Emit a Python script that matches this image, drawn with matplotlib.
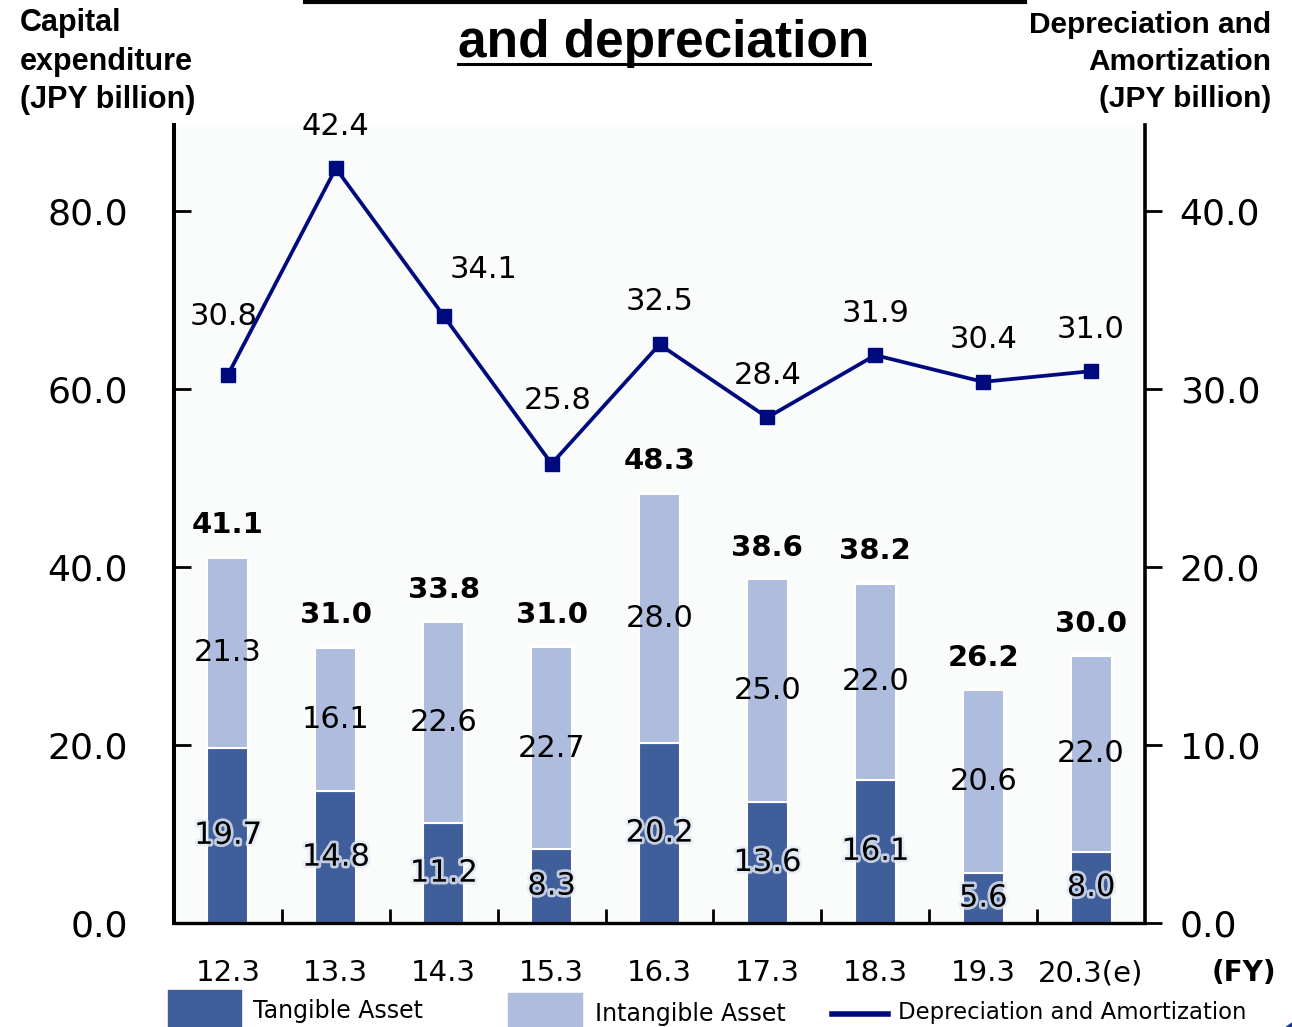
import numpy as np
import matplotlib
matplotlib.use('Agg')
import matplotlib.pyplot as plt
import matplotlib.patheffects as pe
from matplotlib.lines import Line2D
from matplotlib.patches import Rectangle, Circle

# data
years = ['12.3', '13.3', '14.3', '15.3', '16.3', '17.3', '18.3', '19.3', '20.3(e)']
tangible = [19.7, 14.8, 11.2, 8.3, 20.2, 13.6, 16.1, 5.6, 8.0]
intangible = [21.3, 16.1, 22.6, 22.7, 28.0, 25.0, 22.0, 20.6, 22.0]
totals = [41.1, 31.0, 33.8, 31.0, 48.3, 38.6, 38.2, 26.2, 30.0]
depreciation = [30.8, 42.4, 34.1, 25.8, 32.5, 28.4, 31.9, 30.4, 31.0]
left_ticks = [0.0, 20.0, 40.0, 60.0, 80.0]
right_ticks = [0.0, 10.0, 20.0, 30.0, 40.0]

# label offsets for the line (pixels), a few are nudged in the original
line_lbl_off = [(-4, 58), (0, 42), (40, 47), (6, 63), (0, 43), (0, 42), (0, 42), (0, 42), (0, 42)]

C_TAN = '#3f5e9a'
C_INT = '#aebcdd'
C_LINE = '#000a7f'

W, H = 1292, 1027
fig = plt.figure(figsize=(W / 100, H / 100), dpi=100)
fig.patch.set_facecolor('white')

def fx(px):
    return px / W

def fy(py):
    return 1 - py / H

ax = fig.add_axes([fx(174), fy(923), fx(1145) - fx(174), fy(125) - fy(923)])
ax.set_facecolor('#fafbfb')
x = np.arange(len(years))
bw = 0.38
ax.bar(x, tangible, bw, color=C_TAN, edgecolor='white', linewidth=1.5, zorder=2)
ax.bar(x, intangible, bw, bottom=tangible, color=C_INT, edgecolor='white', linewidth=1.5, zorder=2)

ax.set_xlim(-0.5, 8.5)
ax.set_ylim(0, 89.66)
ax.set_yticks(left_ticks)
ax.set_yticklabels(['%.1f' % v for v in left_ticks], fontsize=26, family='DejaVu Sans')
ax.tick_params(axis='y', direction='in', length=12, width=2, pad=33)
ax.set_xticks(x)
ax.set_xticklabels(years, fontsize=21, family='DejaVu Sans')
ax.set_xticks(x[:-1] + 0.5, minor=True)
ax.tick_params(axis='x', which='major', length=0, pad=26)
ax.tick_params(axis='x', which='minor', direction='in', length=10, width=2)
ax.spines['top'].set_visible(False)
ax.spines['right'].set_visible(False)
ax.spines['left'].set_linewidth(2.9)
ax.spines['bottom'].set_linewidth(2.4)

glow = [pe.withStroke(linewidth=4, foreground='#e4eaf5', alpha=0.8)]
for i in range(len(years)):
    ax.text(x[i], tangible[i] / 2, '%.1f' % tangible[i], ha='center', va='center',
            fontsize=22, family='DejaVu Sans', path_effects=glow, zorder=4)
    ax.text(x[i], tangible[i] + intangible[i] / 2, '%.1f' % intangible[i], ha='center',
            va='center', fontsize=22, family='DejaVu Sans', zorder=4)
    ax.annotate('%.1f' % totals[i], (x[i], totals[i]), xytext=(0, 23), textcoords='offset points',
                ha='center', va='center', fontsize=21, fontweight='bold', family='DejaVu Sans')

ax2 = ax.twinx()
ax2.plot(x, depreciation, color=C_LINE, linewidth=2.7, marker='s', markersize=10.5, zorder=5)
ax2.set_ylim(0, 44.83)
ax2.set_yticks(right_ticks)
ax2.set_yticklabels(['%.1f' % v for v in right_ticks], fontsize=26, family='DejaVu Sans')
ax2.tick_params(axis='y', direction='out', length=12, width=2, pad=13)
for s in ['top', 'left', 'bottom']:
    ax2.spines[s].set_visible(False)
ax2.spines['right'].set_linewidth(2.6)
for i in range(len(years)):
    dx, dy = line_lbl_off[i]
    ax2.annotate('%.1f' % depreciation[i], (x[i], depreciation[i]), xytext=(dx * 0.72, dy * 0.72),
                 textcoords='offset points', ha='center', va='center', fontsize=22, family='DejaVu Sans')

# axis titles
fig.text(fx(20), fy(8), 'Capital\nexpenditure\n(JPY billion)', ha='left', va='top',
         fontsize=22, fontweight='bold', family='Liberation Sans', linespacing=1.38)
fig.text(fx(1271), fy(11), 'Depreciation and\nAmortization\n(JPY billion)', ha='right', va='top',
         fontsize=21.5, fontweight='bold', family='Liberation Sans', linespacing=1.4)
fig.text(fx(1244), fy(973), '(FY)', ha='center', va='center', fontsize=20, fontweight='bold',
         family='DejaVu Sans')

# title (first line is cut off in the original, only its underline shows)
t = fig.text(fx(664), fy(43), 'and depreciation', ha='center', va='center', fontsize=37,
             fontweight='bold', family='Liberation Sans')
fig.canvas.draw()
bb = t.get_window_extent(fig.canvas.get_renderer())
fig.add_artist(Line2D([bb.x0 / W, bb.x1 / W], [fy(64), fy(64)], color='black', linewidth=2.2))
fig.add_artist(Line2D([fx(305), fx(1025)], [fy(1.5), fy(1.5)], color='black', linewidth=3))

# legend
fig.add_artist(Rectangle((fx(168), fy(1030)), fx(73), fy(990) - fy(1030), color=C_TAN, clip_on=False))
fig.text(fx(253), fy(1011), 'Tangible Asset', ha='left', va='center', fontsize=17, family='DejaVu Sans')
fig.add_artist(Rectangle((fx(508), fy(1030)), fx(74), fy(993) - fy(1030), color=C_INT, clip_on=False))
fig.text(fx(595), fy(1014), 'Intangible Asset', ha='left', va='center', fontsize=17, family='DejaVu Sans')
fig.add_artist(Line2D([fx(832), fx(888)], [fy(1014), fy(1014)], color=C_LINE, linewidth=4))
fig.text(fx(898), fy(1013), 'Depreciation and Amortization', ha='left', va='center', fontsize=16.4,
         family='DejaVu Sans')

# corner decoration
fig.add_artist(Circle((fx(1340), fy(1070)), 76 / W, color='#1f3a8f', clip_on=False))

fig.savefig('out.png', dpi=100)
